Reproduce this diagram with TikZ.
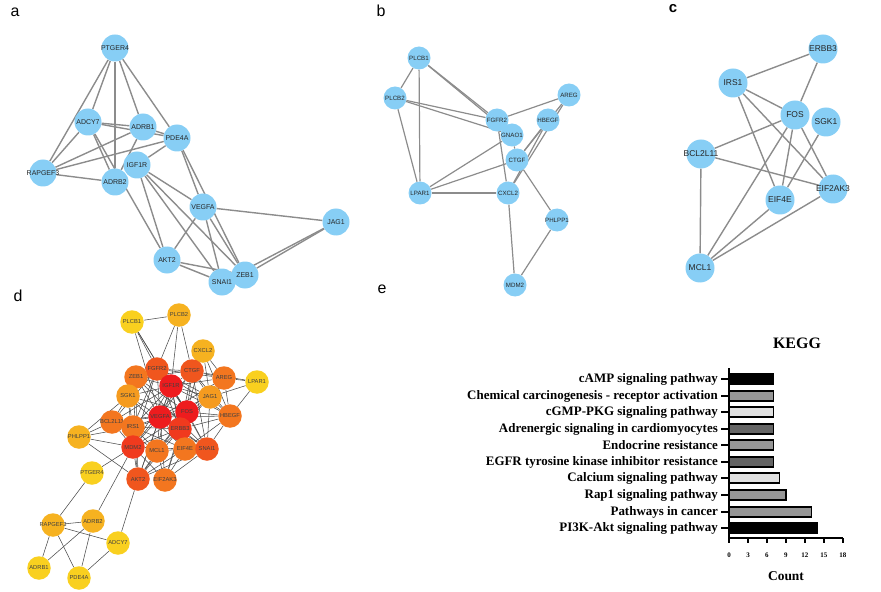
\documentclass[tikz,border=0pt]{standalone}
\usepackage{fontspec}
\setmainfont{Liberation Serif}
\setsansfont{Liberation Sans}
\usetikzlibrary{backgrounds}

\definecolor{netblue}{RGB}{135,206,245}
\definecolor{netgray}{RGB}{140,140,140}
\definecolor{hotA}{RGB}{238,28,30}
\definecolor{hotB}{RGB}{240,58,30}
\definecolor{hotC}{RGB}{240,86,30}
\definecolor{hotD}{RGB}{243,118,31}
\definecolor{hotE}{RGB}{245,155,31}
\definecolor{hotF}{RGB}{246,178,32}
\definecolor{hotG}{RGB}{249,208,31}
\definecolor{barmid}{RGB}{150,150,150}
\definecolor{bardark}{RGB}{100,100,100}
\definecolor{barlight}{RGB}{225,225,225}

\begin{document}
\begin{tikzpicture}[x=1bp, y=-1bp,
	gene/.style={circle, fill=netblue, inner sep=0pt, minimum size=27bp,
		label={[genetext, font=\sffamily\fontsize{7}{7}\selectfont]center:#1}},
	smallgene/.style={circle, fill=netblue, inner sep=0pt, minimum size=23bp,
		label={[genetext, font=\sffamily\fontsize{6.2}{6.2}\selectfont]center:#1}},
	biggene/.style={circle, fill=netblue, inner sep=0pt, minimum size=29bp,
		label={[genetext, font=\sffamily\fontsize{8.5}{8.5}\selectfont]center:#1}},
	hub/.style={circle, inner sep=0pt, minimum size=23.5bp,
		label={[genetext, text=black!75, font=\sffamily\fontsize{5.8}{5.8}\selectfont]center:#1}},
	genetext/.style={inner sep=0pt, text=black!85},
	link/.style={netgray, line width=1.4bp},
	thinlink/.style={black!70, line width=0.55bp},
	panel/.style={font=\sffamily\fontsize{16}{16}\selectfont},
	barlabel/.style={anchor=east, inner sep=0pt, font=\bfseries\fontsize{13}{13}\selectfont},
	bar/.style={draw=black, line width=1.2bp}
]
	\useasboundingbox (0,0) rectangle (881,592);

	% panel letters
	\node[panel] (la) at (15,12) {a};
	\node[panel] (lb) at (381,11) {b};
	\node[panel, font=\sffamily\bfseries\fontsize{15}{15}\selectfont] (lc) at (673,9) {c};
	\node[panel] (ld) at (18,296) {d};
	\node[panel] (le) at (382,289) {e};

	% a
	\foreach \n/\x/\y in {PTGER4/115/48, ADCY7/88/122, ADRB1/143/127, PDE4A/177/138,
		IGF1R/137/165, RAPGEF3/43/173, ADRB2/115/182, VEGFA/203/207, JAG1/336/222,
		AKT2/167/260, SNAI1/222/282, ZEB1/245/275}
		\node[gene=\n] (a\n) at (\x,\y) {};
	\begin{pgfonlayer}{background}
	\foreach \s/\t in {PTGER4/ADCY7, PTGER4/RAPGEF3, PTGER4/ADRB2, PTGER4/ADRB1, PTGER4/PDE4A,
		ADCY7/RAPGEF3, ADCY7/ADRB1, ADCY7/PDE4A, ADCY7/ADRB2, ADCY7/AKT2,
		ADRB1/RAPGEF3, ADRB1/ADRB2, ADRB1/PDE4A, PDE4A/RAPGEF3, PDE4A/IGF1R,
		PDE4A/VEGFA, PDE4A/ZEB1, RAPGEF3/ADRB2, IGF1R/AKT2, IGF1R/SNAI1, IGF1R/ZEB1,
		IGF1R/VEGFA, VEGFA/JAG1, VEGFA/AKT2, VEGFA/SNAI1, VEGFA/ZEB1,
		JAG1/ZEB1, JAG1/SNAI1, AKT2/SNAI1, AKT2/ZEB1}
		\draw[link] (a\s) -- (a\t);
	\end{pgfonlayer}

	% b
	\foreach \n/\x/\y in {PLCB1/419/58, PLCB2/395/98, AREG/569/95, FGFR2/497/120,
		HBEGF/548/120, GNAO1/512/135, CTGF/517/160, LPAR1/420/193, CXCL2/508/193,
		PHLPP1/557/220, MDM2/515/285}
		\node[smallgene=\n] (b\n) at (\x,\y) {};
	\begin{pgfonlayer}{background}
	\foreach \s/\t in {PLCB1/PLCB2, PLCB1/LPAR1, PLCB1/FGFR2, PLCB1/GNAO1,
		PLCB2/FGFR2, PLCB2/GNAO1, PLCB2/LPAR1, AREG/FGFR2, AREG/CTGF, AREG/CXCL2,
		HBEGF/CTGF, HBEGF/CXCL2, FGFR2/CXCL2, GNAO1/CTGF, GNAO1/LPAR1,
		CTGF/LPAR1, CTGF/PHLPP1, LPAR1/CXCL2, CXCL2/MDM2, PHLPP1/MDM2}
		\draw[link, line width=1.2bp] (b\s) -- (b\t);
	\end{pgfonlayer}

	% c
	\foreach \n/\x/\y in {ERBB3/823/49, IRS1/733/83, FOS/795/115, SGK1/826/122,
		BCL2L11/701/154, EIF2AK3/833/189, EIF4E/780/200, MCL1/700/268}
		\node[biggene=\n] (c\n) at (\x,\y) {};
	\begin{pgfonlayer}{background}
	\foreach \s/\t in {ERBB3/IRS1, ERBB3/FOS, IRS1/FOS, IRS1/EIF4E, IRS1/EIF2AK3,
		FOS/BCL2L11, FOS/MCL1, FOS/EIF4E, FOS/EIF2AK3, SGK1/EIF4E,
		BCL2L11/EIF2AK3, BCL2L11/MCL1, EIF4E/MCL1, EIF2AK3/MCL1}
		\draw[link] (c\s) -- (c\t);
	\end{pgfonlayer}

	% d
	\foreach \n/\x/\y/\c in {PLCB1/132/322/hotG, PLCB2/179/315/hotF, CXCL2/203/351/hotF,
		FGFR2/157/369/hotC, CTGF/192/371/hotC, ZEB1/136/377/hotD, AREG/224/378/hotD,
		LPAR1/257/382/hotG, IGF1R/171/386/hotA, SGK1/128/396/hotE, JAG1/210/397/hotE,
		FOS/187/412/hotA, VEGFA/160/417/hotA, HBEGF/230/416/hotD, BCL2L11/112/422/hotD,
		IRS1/133/427/hotD, ERBB3/180/429/hotB, PHLPP1/79/437/hotF, MDM2/133/447/hotB,
		MCL1/157/451/hotD, EIF4E/185/449/hotD, SNAI1/207/449/hotC, PTGER4/92/473/hotG,
		AKT2/138/479/hotC, EIF2AK3/165/480/hotD, RAPGEF3/53/525/hotF, ADRB2/93/521/hotF,
		ADCY7/118/543/hotG, ADRB1/39/568/hotG, PDE4A/79/578/hotG}
		\node[hub=\n, fill=\c] (d\n) at (\x,\y) {};
	\begin{pgfonlayer}{background}
	\foreach \s/\t in {FGFR2/IGF1R, FGFR2/CTGF, FGFR2/ZEB1, FGFR2/SGK1, FGFR2/VEGFA,
		FGFR2/FOS, FGFR2/IRS1, FGFR2/MDM2, FGFR2/ERBB3, FGFR2/JAG1, FGFR2/AREG,
		FGFR2/HBEGF, FGFR2/BCL2L11, CTGF/IGF1R, CTGF/AREG, CTGF/JAG1, CTGF/FOS,
		CTGF/VEGFA, CTGF/HBEGF, CTGF/ERBB3, CTGF/MDM2, CTGF/SNAI1, CTGF/ZEB1,
		ZEB1/IGF1R, ZEB1/SGK1, ZEB1/VEGFA, ZEB1/SNAI1, ZEB1/FOS, ZEB1/MDM2, ZEB1/AKT2,
		AREG/JAG1, AREG/HBEGF, AREG/IGF1R, AREG/FOS, AREG/ERBB3, AREG/VEGFA,
		IGF1R/SGK1, IGF1R/VEGFA, IGF1R/FOS, IGF1R/JAG1, IGF1R/IRS1, IGF1R/ERBB3,
		IGF1R/MDM2, IGF1R/MCL1, IGF1R/EIF4E, IGF1R/SNAI1, IGF1R/AKT2, IGF1R/BCL2L11,
		IGF1R/HBEGF, SGK1/VEGFA, SGK1/BCL2L11, SGK1/IRS1, SGK1/FOS, SGK1/MDM2, SGK1/EIF4E,
		JAG1/FOS, JAG1/HBEGF, JAG1/VEGFA, JAG1/SNAI1, JAG1/ERBB3,
		FOS/VEGFA, FOS/HBEGF, FOS/ERBB3, FOS/SNAI1, FOS/EIF4E, FOS/MCL1, FOS/MDM2,
		FOS/IRS1, FOS/AKT2, FOS/EIF2AK3, FOS/BCL2L11, VEGFA/ERBB3, VEGFA/IRS1,
		VEGFA/MDM2, VEGFA/MCL1, VEGFA/BCL2L11, VEGFA/AKT2, VEGFA/EIF4E, VEGFA/SNAI1,
		VEGFA/EIF2AK3, VEGFA/HBEGF, HBEGF/ERBB3, HBEGF/SNAI1, HBEGF/EIF4E,
		BCL2L11/IRS1, BCL2L11/MDM2, BCL2L11/MCL1, IRS1/MDM2, IRS1/MCL1, IRS1/ERBB3,
		IRS1/AKT2, IRS1/EIF4E, ERBB3/EIF4E, ERBB3/MCL1, ERBB3/SNAI1, ERBB3/MDM2,
		ERBB3/EIF2AK3, ERBB3/AKT2, MDM2/MCL1, MDM2/AKT2, MDM2/EIF2AK3, MDM2/EIF4E,
		MCL1/EIF4E, MCL1/AKT2, MCL1/EIF2AK3, EIF4E/SNAI1, EIF4E/EIF2AK3, EIF4E/AKT2,
		SNAI1/EIF2AK3, SNAI1/AKT2,
		PLCB1/PLCB2, PLCB1/FGFR2, PLCB1/IGF1R, PLCB1/VEGFA, PLCB1/FOS,
		PLCB2/FGFR2, PLCB2/IGF1R, PLCB2/CTGF, CXCL2/AREG, CXCL2/JAG1, CXCL2/HBEGF,
		CXCL2/CTGF, CXCL2/FOS, LPAR1/AREG, LPAR1/JAG1, LPAR1/HBEGF, LPAR1/CTGF,
		PHLPP1/BCL2L11, PHLPP1/IRS1, PHLPP1/MDM2, PHLPP1/AKT2, PHLPP1/SGK1,
		PTGER4/RAPGEF3, PTGER4/MDM2, RAPGEF3/ADRB2, RAPGEF3/ADCY7, RAPGEF3/ADRB1,
		RAPGEF3/PDE4A, ADRB2/ADRB1, ADRB2/PDE4A, ADRB2/MDM2, ADCY7/AKT2, ADCY7/PDE4A}
		\draw[thinlink] (d\s) -- (d\t);
	\end{pgfonlayer}

	% e
	\def\bx{729}
	\def\by{538}
	\def\cw{6.33}
	\node[font=\bfseries\fontsize{16}{16}\selectfont] (kegg) at (797,343) {KEGG};
	\foreach \v/\yy/\col/\txt in {7/379/black/cAMP signaling pathway,
		7/396/barmid/Chemical carcinogenesis - receptor activation,
		7/412/barlight/cGMP-PKG signaling pathway,
		7/429/bardark/Adrenergic signaling in cardiomyocytes,
		7/445/barmid/Endocrine resistance,
		7/462/bardark/EGFR tyrosine kinase inhibitor resistance,
		8/478/barlight/Calcium signaling pathway,
		9/495/barmid/Rap1 signaling pathway,
		13/512/barmid/Pathways in cancer,
		14/528/black/PI3K-Akt signaling pathway}
	{
		\draw[bar, fill=\col] (\bx,\yy-5) rectangle (\bx+\v*\cw,\yy+5);
		\draw[line width=1.2bp] (721,\yy) -- (\bx,\yy);
		\node[barlabel] at (718,\yy) {\txt};
	}
	\draw[line width=1.4bp] (\bx,368) -- (\bx,\by) -- (843,\by);
	\foreach \t in {0,3,...,18}
		\draw[line width=1.2bp] (\bx+\t*\cw,\by) -- ++(0,5)
			node[below=9bp, inner sep=0pt, font=\bfseries\fontsize{7}{7}\selectfont] {\t};
	\node[font=\bfseries\fontsize{13.5}{13.5}\selectfont] (count) at (786,576) {Count};
\end{tikzpicture}
\end{document}
